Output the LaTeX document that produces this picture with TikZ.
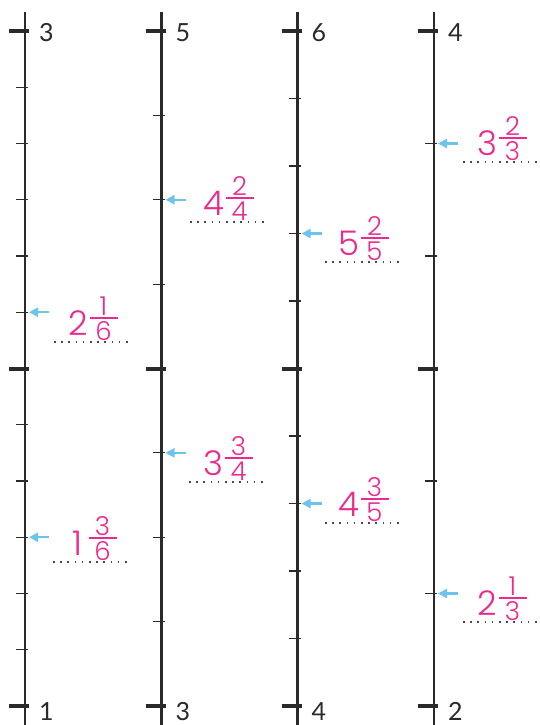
\documentclass[tikz,border=0pt]{standalone}
\usepackage{fontspec}
\usetikzlibrary{arrows.meta}
\newfontfamily\pinkfont{Poppins}[UprightFont=* Light]
\newfontfamily\numfont{Lato}
\definecolor{pk}{HTML}{EA2A8C}
\definecolor{ab}{HTML}{6CC4EC}
\definecolor{ln}{HTML}{2A2A2A}
\newcommand\mixlabel[6]{%
  \node[whole] (#1w) at (#2,#3+5) {#4};
  \node[fracdigit] (#1n) at (#2+25.5,#3-11.5) {#5};
  \node[fracdigit] (#1d) at (#2+25.5,#3+13) {#6};
  \draw[fracbar] (#2+12,#3) -- (#2+40,#3);
  \draw[answer] (#2-24,#3+24) -- (#2+54,#3+24);
}
\begin{document}
\begin{tikzpicture}[x=1pt,y=-1pt,
  numline/.style={ln, line width=2.4pt},
  majortick/.style={ln, line width=4pt},
  minortick/.style={ln, line width=1.2pt},
  endlabel/.style={anchor=west, inner sep=0pt, text=ln, font=\numfont\fontsize{25}{25}\selectfont},
  pointer/.style={ab, line width=2.2pt, -{Triangle[length=9pt,width=9pt]}},
  whole/.style={inner sep=0pt, text=pk, font=\pinkfont\fontsize{34}{34}\selectfont},
  fracdigit/.style={inner sep=0pt, text=pk, font=\pinkfont\fontsize{26}{26}\selectfont},
  fracbar/.style={pk, line width=1.2pt},
  answer/.style={ln!85, line width=1.6pt, dash pattern=on 1.6pt off 5.6pt},
]
\useasboundingbox (0,0) rectangle (540,725);
\fill[white] (0,0) rectangle (540,725);
\foreach \x/\n/\ta/\tb/\tc [count=\i] in {25/6/3/2/1, 161.5/4/5/4/3, 297.5/5/6/5/4, 434/3/4/3/2} {
  \draw[numline] (\x,12) -- (\x,725);
  \pgfmathsetmacro\stp{337.5/\n}
  \pgfmathtruncatemacro\m{2*\n-1}
  \foreach \k in {1,...,\m} {
    \draw[minortick] (\x-9,31+\k*\stp) -- (\x+3,31+\k*\stp);
  }
  \foreach \y in {31,368.5,706} {
    \draw[majortick] (\x-16,\y) -- (\x+4,\y);
  }
  \node[endlabel] (top\i) at (\x+14,32.5) {\ta};
  \node[endlabel] (bot\i) at (\x+14,711.5) {\tc};
}
% pointers
\foreach \x/\y [count=\j] in {25/312.25, 25/537.25, 161.5/199.75, 161.5/452.875, 297.5/233.5, 297.5/503.5, 434/143.5, 434/593.5} {
  \coordinate (tip\j) at (\x+4,\y);
  \coordinate (tail\j) at (\x+24,\y);
  \draw[pointer] (tail\j) -- (tip\j);
}
% answers
\mixlabel{la}{78}{318}{2}{1}{6}
\mixlabel{lb}{77}{538}{1}{3}{6}
\mixlabel{lc}{214}{198}{4}{2}{4}
\mixlabel{ld}{213}{458}{3}{3}{4}
\mixlabel{le}{349}{238}{5}{2}{5}
\mixlabel{lf}{349}{499}{4}{3}{5}
\mixlabel{lg}{487}{138}{3}{2}{3}
\mixlabel{lh}{487}{598}{2}{1}{3}
\end{tikzpicture}
\end{document}
